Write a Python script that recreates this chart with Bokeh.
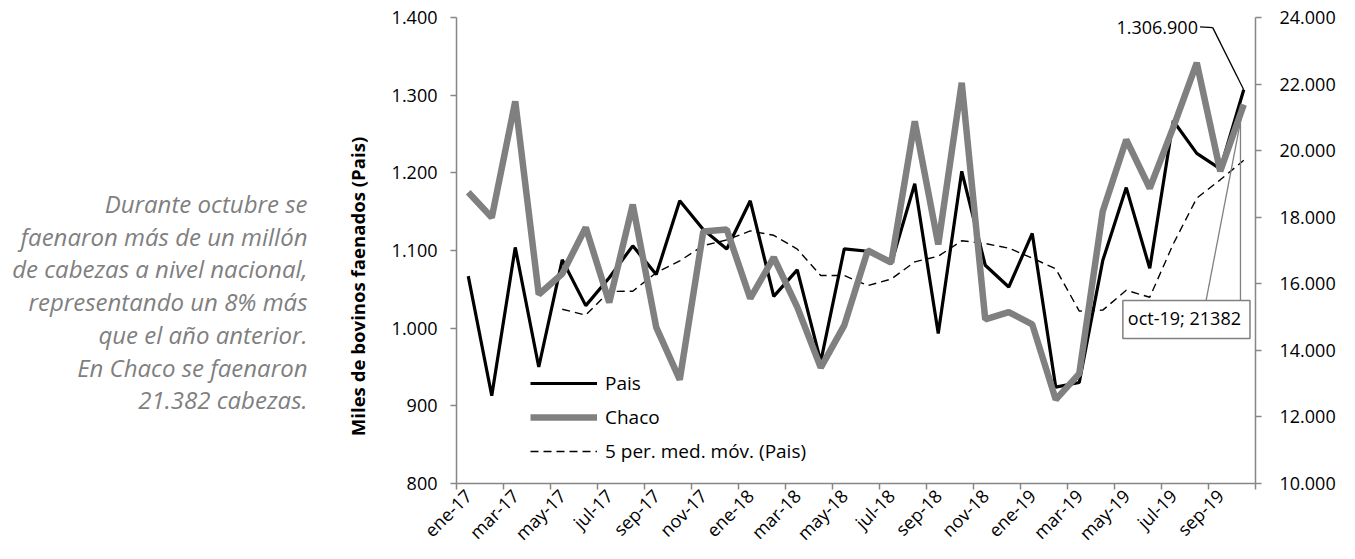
import math
import pandas as pd
from bokeh.plotting import figure
from bokeh.layouts import row
from bokeh.models import (Range1d, LinearAxis, FixedTicker, CustomJSTickFormatter,
                          Legend, LegendItem, Label, ColumnDataSource)
from bokeh.embed import file_html
from bokeh.resources import INLINE

months = ["ene-17", "feb-17", "mar-17", "abr-17", "may-17", "jun-17", "jul-17", "ago-17",
          "sep-17", "oct-17", "nov-17", "dic-17",
          "ene-18", "feb-18", "mar-18", "abr-18", "may-18", "jun-18", "jul-18", "ago-18",
          "sep-18", "oct-18", "nov-18", "dic-18",
          "ene-19", "feb-19", "mar-19", "abr-19", "may-19", "jun-19", "jul-19", "ago-19",
          "sep-19", "oct-19"]
pais = [1067, 913, 1104, 950, 1088, 1029, 1065, 1106, 1069, 1164, 1127, 1102,
        1164, 1041, 1075, 957, 1102, 1099, 1083, 1186, 993, 1202, 1081, 1053,
        1122, 924, 930, 1087, 1181, 1077, 1267, 1225, 1205, 1306.9]
chaco = [18750, 17990, 21480, 15680, 16300, 17690, 15440, 18380, 14690, 13120, 17570, 17630,
         15560, 16790, 15300, 13480, 14750, 17000, 16640, 20880, 17180, 22040, 14930, 15150,
         14780, 12520, 13300, 18180, 20330, 18870, 20700, 22640, 19380, 21382]
side_lines = ["Durante octubre se", "faenaron más de un millón", "de cabezas a nivel nacional,",
              "representando un 8% más", "que el año anterior.", "En Chaco se faenaron",
              "21.382 cabezas."]
y_title = "Miles de bovinos faenados (Pais)"

FONT = "Open Sans"
GRAY_AX = "#868686"
H = 558
TXT_W = 380
TOP, BOTTOM = 17, 75

x = list(range(len(months)))
ma = pd.Series(pais).rolling(5).mean()
src = ColumnDataSource(dict(x=x, pais=pais, chaco=chaco, ma=ma))

# ---------- left text panel: its frame is aligned with the chart frame;
# y range is inverted so that y equals the page row (top-down) ----------
t = figure(width=TXT_W, height=H, output_backend="svg", toolbar_location=None,
           x_range=Range1d(0, TXT_W), y_range=Range1d(H - BOTTOM, TOP),
           min_border_left=0, min_border_right=0, min_border_top=TOP, min_border_bottom=BOTTOM)
t.axis.visible = False
t.grid.visible = False
t.outline_line_color = None
for k, line in enumerate(side_lines):
    t.add_layout(Label(x=307, y=203 + 32.7 * k, text=line, text_align="right",
                       text_baseline="middle", text_font=FONT, text_font_size="24px",
                       text_font_style="italic", text_color="#7f7f7f"))
t.add_layout(Label(x=357, y=286, text=y_title, angle=math.pi / 2, text_align="center",
                   text_baseline="middle", text_font=FONT, text_font_size="18.6px",
                   text_font_style="bold", text_color="black"))

# ---------- main chart ----------
p = figure(width=1347 - TXT_W, height=H, output_backend="svg", toolbar_location=None,
           x_range=Range1d(-0.5, len(months) - 0.5), y_range=Range1d(800, 1400),
           min_border_left=456 - TXT_W, min_border_right=92, min_border_top=TOP, min_border_bottom=BOTTOM)
p.extra_y_ranges = {"chaco": Range1d(10000, 24000)}
p.outline_line_color = None
p.xgrid.grid_line_color = None
p.ygrid.grid_line_color = None

fmt = CustomJSTickFormatter(code='return tick.toFixed(0).replace(/\\B(?=(\\d{3})+(?!\\d))/g, ".");')

ya = p.yaxis[0]
ya.ticker = FixedTicker(ticks=[800, 900, 1000, 1100, 1200, 1300, 1400])
ya.formatter = fmt
ya.axis_line_color = GRAY_AX
ya.axis_line_width = 1.5
ya.major_tick_line_color = GRAY_AX
ya.major_tick_line_width = 1.5
ya.major_tick_out = 6
ya.major_tick_in = 0
ya.minor_tick_line_color = None
ya.major_label_text_font = FONT
ya.major_label_text_font_size = "18px"
ya.major_label_text_color = "black"
ya.major_label_standoff = 13

ra = LinearAxis(y_range_name="chaco")
ra.ticker = FixedTicker(ticks=[10000, 12000, 14000, 16000, 18000, 20000, 22000, 24000])
ra.formatter = fmt
ra.axis_line_color = GRAY_AX
ra.axis_line_width = 1.5
ra.major_tick_line_color = GRAY_AX
ra.major_tick_line_width = 1.5
ra.major_tick_out = 6
ra.major_tick_in = 0
ra.minor_tick_line_color = None
ra.major_label_text_font = FONT
ra.major_label_text_font_size = "18px"
ra.major_label_text_color = "black"
ra.major_label_standoff = 18
p.add_layout(ra, "right")

xa = p.xaxis[0]
xa.ticker = FixedTicker(ticks=x[::2], minor_ticks=[i - 0.5 for i in range(0, len(months) + 1, 2)])
xa.major_label_overrides = {i: months[i] for i in x[::2]}
xa.major_label_orientation = math.pi / 4
xa.major_label_text_font = FONT
xa.major_label_text_font_size = "18px"
xa.major_label_text_color = "black"
xa.major_label_standoff = 3
xa.axis_line_color = GRAY_AX
xa.axis_line_width = 1.5
xa.major_tick_line_color = None
xa.minor_tick_line_color = GRAY_AX
xa.minor_tick_line_width = 1.5
xa.minor_tick_out = 6
xa.minor_tick_in = 0

r_pais = p.line("x", "pais", source=src, line_color="black", line_width=3.2)
r_ma = p.line("x", "ma", source=src, line_color="black", line_width=1.4, line_dash="8 5")
r_chaco = p.line("x", "chaco", source=src, y_range_name="chaco", line_color="#808080", line_width=6.5)

legend = Legend(items=[LegendItem(label="Pais", renderers=[r_pais]),
                       LegendItem(label="Chaco", renderers=[r_chaco]),
                       LegendItem(label="5 per. med. móv. (Pais)", renderers=[r_ma])],
                location=(74, 19), orientation="vertical",
                glyph_width=67, glyph_height=20, label_height=20, label_standoff=8,
                spacing=8, padding=0, margin=0,
                background_fill_alpha=0, border_line_color=None,
                label_text_font=FONT, label_text_font_size="19px", label_text_color="black")
p.add_layout(legend, "center")

last = len(months) - 1
# value label for last Pais point
p.segment(x0=[last - 1.86, last - 1.32], y0=[1388, 1387], x1=[last - 1.32, last], y1=[1387, pais[last]],
          line_color="black", line_width=1.3)
p.add_layout(Label(x=last - 1.95, y=1387, text=f"{pais[last]*1000:,.0f}".replace(",", "."),
                   text_align="right", text_baseline="middle",
                   text_font=FONT, text_font_size="18px", text_color="black"))

# callout for last Chaco point
p.segment(x0=[last - 1.62, last - 0.14], y0=[15437, 15437], x1=[last, last - 0.14],
          y1=[chaco[last], chaco[last]],
          line_color="#808080", line_width=1.3, y_range_name="chaco")
p.add_layout(Label(x=last - 2.44, y=14926, y_range_name="chaco",
                   text=f"{months[last]}; {chaco[last]}",
                   text_align="center", text_baseline="middle",
                   text_font=FONT, text_font_size="18px", text_color="black",
                   background_fill_color="white", border_line_color="#808080", border_line_width=1.5,
                   padding=(5, 9, 5, 9)))

open("out.html", "w").write(file_html(row(t, p), INLINE))
